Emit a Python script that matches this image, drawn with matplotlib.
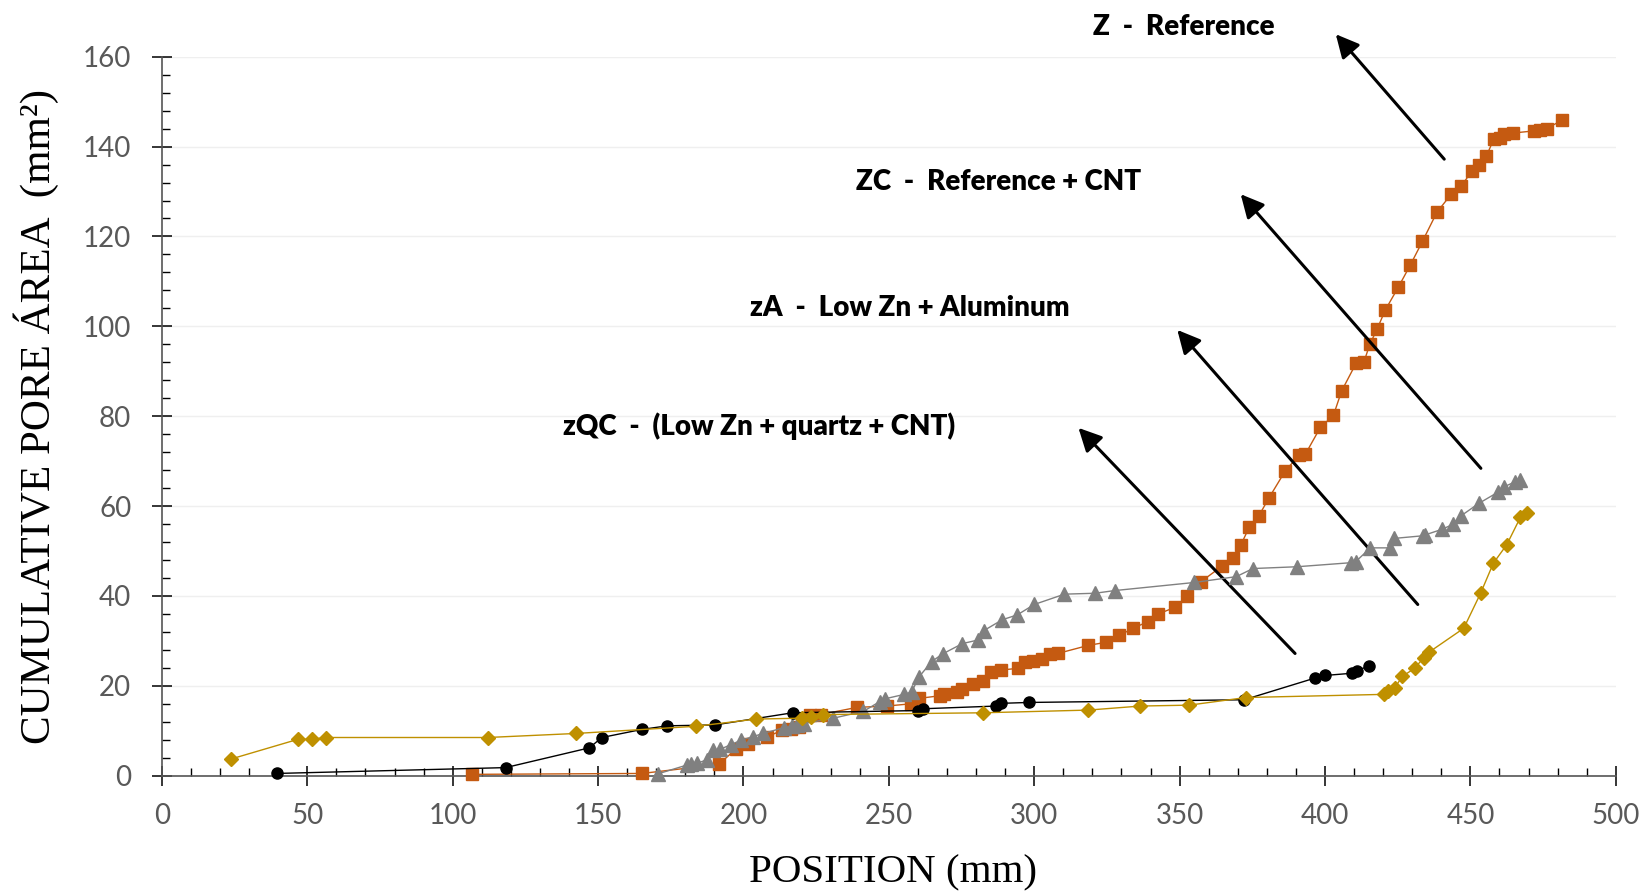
import matplotlib
matplotlib.use("Agg")
import matplotlib.pyplot as plt
from matplotlib.ticker import MultipleLocator

# ---------------- data ----------------
z_x = [106.5, 165.1, 191.5, 197.5, 201.5, 208.0, 213.2, 216.2, 219.0, 223.0, 226.5,
       239.0, 249.3, 257.6, 260.4, 267.6, 269.0, 273.3, 275.3, 278.8, 282.4, 285.3,
       288.4, 294.5, 296.7, 299.7, 302.5, 305.3, 308.1, 318.6, 324.8, 329.2, 334.0,
       339.1, 342.7, 348.5, 352.7, 357.4, 364.7, 368.4, 371.1, 374.0, 377.3, 380.8,
       386.4, 391.1, 393.2, 398.4, 402.9, 405.7, 410.7, 413.4, 415.4, 418.0, 420.7,
       425.2, 429.3, 433.5, 438.5, 443.4, 446.9, 450.5, 452.9, 455.5, 458.0, 460.1,
       461.6, 464.5, 472.0, 473.8, 476.2, 481.6]
z_y = [0.3, 0.5, 2.5, 6.0, 7.1, 8.6, 10.1, 10.3, 10.8, 13.4, 13.6,
       15.2, 15.5, 16.0, 17.2, 17.8, 18.1, 18.6, 19.2, 20.4, 21.0, 23.0,
       23.5, 23.9, 25.3, 25.6, 26.0, 27.0, 27.2, 29.0, 29.7, 31.2, 32.8,
       34.3, 36.0, 37.5, 40.1, 43.2, 46.7, 48.4, 51.4, 55.4, 57.9, 61.9,
       67.9, 71.3, 71.5, 77.5, 80.2, 85.6, 91.8, 92.1, 96.0, 99.5, 103.6,
       108.7, 113.6, 118.9, 125.4, 129.4, 131.2, 134.6, 135.9, 137.9, 141.6, 142.0,
       142.7, 143.0, 143.5, 143.7, 144.0, 145.9]

zc_x = [170.5, 180.7, 182.1, 184.1, 187.3, 189.6, 192.1, 195.6, 199.2, 203.2, 206.8,
        213.9, 216.8, 218.5, 220.8, 230.9, 241.2, 246.9, 248.6, 255.3, 257.8, 260.4,
        264.7, 268.5, 275.3, 280.7, 282.7, 289.0, 294.2, 300.0, 310.4, 320.9, 327.7,
        355.1, 369.5, 375.2, 390.4, 408.9, 410.5, 415.6, 422.4, 423.7, 433.8, 434.5,
        440.1, 443.9, 446.7, 452.9, 459.5, 461.6, 465.4, 467.2]
zc_y = [0.4, 2.4, 2.5, 2.8, 3.5, 5.7, 5.9, 6.9, 7.9, 8.7, 9.4,
        10.7, 11.0, 11.3, 11.6, 12.8, 14.3, 16.5, 17.1, 18.1, 18.6, 22.0,
        25.4, 27.1, 29.4, 30.2, 32.3, 34.7, 35.8, 38.1, 40.4, 40.6, 41.2,
        43.0, 44.3, 46.1, 46.5, 47.4, 47.6, 50.7, 50.7, 52.8, 53.4, 53.6,
        54.8, 55.9, 57.8, 60.6, 63.1, 64.3, 65.4, 65.8]

zqc_x = [39.5, 118.2, 147.0, 151.3, 165.1, 173.8, 190.2, 216.9, 260.1, 261.8,
         287.0, 288.5, 298.2, 372.2, 396.4, 399.9, 409.3, 411.1, 415.0]
zqc_y = [0.5, 1.8, 6.2, 8.5, 10.3, 11.1, 11.3, 14.0, 14.5, 14.9,
         15.5, 16.1, 16.3, 16.9, 21.7, 22.3, 22.8, 23.4, 24.4]

za_x = [23.7, 46.8, 51.5, 56.3, 112.0, 142.4, 183.7, 204.3, 220.0, 223.2, 227.5,
        282.3, 318.6, 336.5, 353.3, 372.8, 420.3, 421.8, 424.0, 426.6, 430.8,
        434.0, 435.8, 447.7, 453.5, 457.9, 462.5, 467.2, 469.4]
za_y = [3.7, 8.1, 8.1, 8.5, 8.5, 9.4, 11.0, 12.6, 12.8, 13.0, 13.6,
        14.0, 14.6, 15.5, 15.7, 17.4, 18.1, 18.9, 19.6, 22.1, 23.9,
        26.3, 27.5, 32.8, 40.6, 47.3, 51.4, 57.5, 58.4]

labels = ["Z  -  Reference", "ZC  -  Reference + CNT",
          "zA  -  Low Zn + Aluminum", "zQC  -  (Low Zn + quartz + CNT)"]
label_xy = [(351.3, 166.6), (287.7, 132.1), (257.2, 104.1), (205.2, 77.8)]
arrow_tail = [(441.0, 137.2), (453.6, 68.4), (431.9, 38.1), (389.7, 27.2)]
arrow_head = [(403.7, 165.0), (371.0, 129.4), (349.2, 99.2), (315.2, 77.4)]

x_ticks = [0, 50, 100, 150, 200, 250, 300, 350, 400, 450, 500]
y_ticks = [0, 20, 40, 60, 80, 100, 120, 140, 160]

# ---------------- figure ----------------
W, H = 1645, 892
fig = plt.figure(figsize=(W / 100, H / 100), dpi=100)
ax = fig.add_axes([161.9 / W, (H - 775.7) / H, (1615.8 - 161.9) / W, (775.7 - 56.7) / H])

ax.plot(z_x, z_y, color="#C55A11", lw=1.0, marker="s", ms=8, mec="#C55A11",
        mfc="#C55A11", clip_on=False, zorder=3)
ax.plot(zc_x, zc_y, color="#808080", lw=1.0, marker="^", ms=9.5, mec="#808080",
        mfc="#808080", clip_on=False, zorder=4)
ax.plot(zqc_x, zqc_y, color="black", lw=1.0, marker="o", ms=8, mec="black",
        mfc="black", clip_on=False, zorder=5)
ax.plot(za_x, za_y, color="#BF9000", lw=1.0, marker="D", ms=7, mec="#BF9000",
        mfc="#BF9000", clip_on=False, zorder=6)

ax.set_xlim(0, 500)
ax.set_ylim(0, 160)
ax.set_xticks(x_ticks)
ax.set_yticks(y_ticks)
ax.xaxis.set_minor_locator(MultipleLocator(10))
ax.yaxis.set_minor_locator(MultipleLocator(4))

ax.yaxis.grid(True, which="major", color="#EFEFEF", lw=1.0, zorder=0)
ax.set_axisbelow(True)

for s in ["top", "right"]:
    ax.spines[s].set_visible(False)
for s in ["left", "bottom"]:
    ax.spines[s].set_color("#555555")
    ax.spines[s].set_linewidth(1.2)

ax.tick_params(which="major", direction="inout", length=14, width=1.1, color="black",
               labelsize=20, labelcolor="#595959")
ax.tick_params(axis="y", which="major", pad=15)
ax.tick_params(axis="x", which="major", pad=13)
ax.tick_params(which="minor", direction="in", length=5.5, width=1.0, color="black")
for lab in ax.get_xticklabels() + ax.get_yticklabels():
    lab.set_family("Lato")

fig.text(50 / W, 1 - 416.5 / H, "CUMULATIVE PORE ÁREA  (mm²)", rotation=90,
         rotation_mode="anchor", ha="center", va="baseline",
         family="Liberation Serif", fontsize=31, color="black")
fig.text(893 / W, 1 - 882 / H, "POSITION (mm)", ha="center", va="baseline",
         family="Liberation Serif", fontsize=29.5, color="black")

for txt, (tx, ty) in zip(labels, label_xy):
    ax.text(tx, ty, txt, ha="center", va="center", family="Lato",
            fontweight="heavy", fontsize=20, color="black", clip_on=False)

for (hx, hy), (tx, ty) in zip(arrow_head, arrow_tail):
    ax.annotate("", xy=(hx, hy), xytext=(tx, ty), annotation_clip=False,
                arrowprops=dict(arrowstyle="-|>,head_length=0.5,head_width=0.25",
                                mutation_scale=28, color="black", lw=2.2,
                                shrinkA=0, shrinkB=0))

fig.savefig("out.png", dpi=100)
